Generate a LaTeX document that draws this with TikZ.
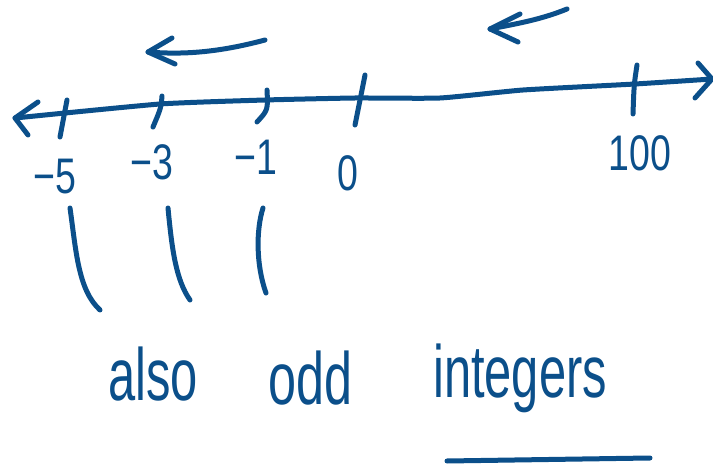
\documentclass[tikz,border=0pt]{standalone}
\usepackage{fontspec}
\setmainfont{Liberation Sans}
\definecolor{ink}{HTML}{0B4F8A}
\tikzset{
  pen/.style={draw=ink, line width=5pt, line cap=round, line join=round},
  numlabel/.style={text=ink, font=\fontsize{50}{50}\selectfont, inner sep=0pt},
  word/.style={text=ink, font=\fontsize{74}{74}\selectfont, inner sep=0pt, anchor=base west}
}
\begin{document}
\begin{tikzpicture}[x=1pt,y=-1pt]
\useasboundingbox (0,0) rectangle (713,473);
% number line
\draw[pen] plot[smooth, tension=0.3] coordinates {(15,118) (160,104) (265,100) (355,98) (440,98) (523,90) (635,84) (712,79)};
\draw[pen] (38,102) -- (15,118) -- (28,135);
\draw[pen] (698,63) -- (712,79) -- (695,98);
% ticks
\draw[pen] (67,100) -- (60,137);
\draw[pen] (162,96) .. controls (161,108) .. (153,127);
\draw[pen] (267,90) .. controls (268,110) .. (257,122);
\draw[pen] (365,75) -- (355,125);
\draw[pen] (637,65) .. controls (634,85) .. (633,114);
% labels
\node[numlabel] (m5) at (55,177) {\scalebox{0.75}[1]{−5}};
\node[numlabel] (m3) at (152,162) {\scalebox{0.75}[1]{−3}};
\node[numlabel] (m1) at (256,157) {\scalebox{0.75}[1]{−1}};
\node[numlabel] (z) at (348,173) {\scalebox{0.75}[1]{0}};
\node[numlabel] (h) at (640,153) {\scalebox{0.75}[1]{100}};
% top arrows
\draw[pen] (265,40) .. controls (220,52) and (185,55) .. (148,52);
\draw[pen] (172,38) -- (148,52) -- (175,64);
\draw[pen] (567,9) .. controls (540,20) and (515,24) .. (490,29);
\draw[pen] (520,14) -- (490,29) -- (518,42);
% vertical strokes
\draw[pen] (70,208) .. controls (76,250) and (78,290) .. (100,310);
\draw[pen] (168,208) .. controls (172,250) and (176,280) .. (190,300);
\draw[pen] (263,208) .. controls (256,230) and (256,265) .. (266,293);
% words
\node[word] (also) at (108,400) {\scalebox{0.66}[1]{also}};
\node[word] (odd) at (268,404) {\scalebox{0.68}[1]{odd}};
\node[word] (integers) at (433,398) {\scalebox{0.66}[1]{integers}};
% underline
\draw[pen] (447,461) -- (650,458);
\end{tikzpicture}
\end{document}
